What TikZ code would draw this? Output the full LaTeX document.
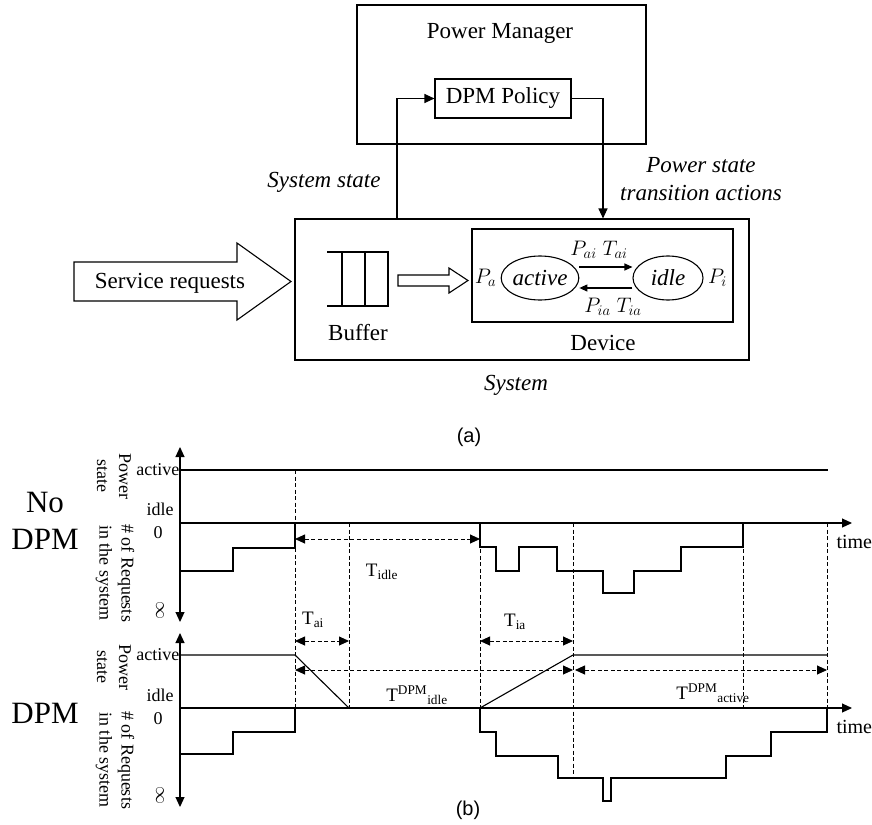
\RequirePackage{fix-cm}
\documentclass[tikz,border=0pt]{standalone}
\usepackage{fontspec}
\setmainfont{Liberation Serif}
\newfontfamily\capfont{Liberation Sans}
\usepackage{tikz}
\usetikzlibrary{arrows.meta,positioning,shapes.geometric}
\newcommand{\fmain}{\fontsize{23}{27.6}\selectfont}
\newcommand{\fside}{\fontsize{21}{25}\selectfont}
\newcommand{\fplot}{\fontsize{18}{22}\selectfont}
\newcommand{\fbig}{\fontsize{31}{37}\selectfont}
\newcommand{\fcap}{\capfont\fontsize{20}{24}\selectfont}

\begin{document}
\begin{tikzpicture}[x=1pt,y=-1pt,line width=1.1pt,>={Triangle[length=10pt,width=9pt]},
  box/.style={draw,inner sep=0pt},
  lbl/.style={font=\fmain,inner sep=0pt},
  plbl/.style={font=\fplot,inner sep=0pt},
  tlbl/.style={font=\fontsize{19}{22}\selectfont,inner sep=0pt},
  guide/.style={dash pattern=on 4pt off 2.5pt,line width=0.9pt},
  devarr/.style={-{Triangle[length=8pt,width=7pt]}}]
  \useasboundingbox (0,0) rectangle (872,824);
  % (a)
  \node[box,minimum width=289pt,minimum height=139pt] (pm) at (501.5,74.5) {};
  \node[lbl] (pmname) at (500,33) {Power Manager};
  \node[box,minimum width=136pt,minimum height=39pt,font=\fmain] (policy) at (503,98.5) {DPM Policy};
  \node[box,minimum width=454pt,minimum height=141pt] (sys) at (522,289.5) {};
  \node[box,minimum width=261pt,minimum height=93pt] (dev) at (602.5,275.5) {};
  \node[draw,ellipse,minimum width=64pt,minimum height=44pt,inner sep=0pt,font=\fmain\itshape] (act) at (540,278) {active};
  \node[draw,ellipse,minimum width=70pt,minimum height=44pt,inner sep=0pt,font=\fmain\itshape] (idl) at (668,278) {idle};
  \draw[devarr] ([yshift=11pt]act.east) -- ([yshift=11pt]idl.west);
  \draw[devarr] ([yshift=-10pt]idl.west) -- ([yshift=-10pt]act.east);
  \node[font=\fside,inner sep=0pt] (pai) at (599,250) {$P_{ai}\;T_{ai}$};
  \node[font=\fside,inner sep=0pt] (pia) at (613,307) {$P_{ia}\;T_{ia}$};
  \node[font=\fside,inner sep=1pt,left=3pt of act] (pa) {$P_a$};
  \node[font=\fside,inner sep=1pt,right=3pt of idl] (pi) {$P_i$};
  \draw (327,252) -- (388,252) -- (388,306) -- (327,306) (342,252) -- (342,306) (365,252) -- (365,306);
  \node[lbl] (buf) at (358,333) {Buffer};
  \node[lbl] (devname) at (603,343) {Device};
  \node[lbl,font=\fmain\itshape] (sysname) at (516,385) {System};
  \draw (74,262) -- (237,262) -- (237,243) -- (291,281.5) -- (237,320) -- (237,301) -- (74,301) -- cycle;
  \node[lbl] (req) at (170,283) {Service requests};
  \draw (398,275) -- (449,275) -- (449,268) -- (468,280.5) -- (449,293) -- (449,286) -- (398,286) -- cycle;
  \draw[->] ([xshift=-125pt]sys.north) |- (policy.west);
  \draw[->] (policy.east) -| ([xshift=81pt]sys.north);
  \node[lbl,font=\fmain\itshape] (sstate) at (324,182) {System state};
  \node[lbl,font=\fmain\itshape,align=center] (pstate) at (701,179) {Power state\\transition actions};
  \node[font=\fcap] (capa) at (469,437) {(a)};
  % (b) no DPM
  \node[font=\fbig,align=center,inner sep=0pt] (nodpm) at (45,521) {No\\DPM};
  \node[plbl,rotate=-90,align=center] at (114,476) {Power\\state};
  \node[plbl,rotate=-90,align=center] at (115,573) {\# of Requests\\in the system};
  \draw[<->] (180,447) -- (180,622);
  \draw (180,470) -- (828,470);
  \draw[->] (180,523) -- (852,523);
  \node[plbl,anchor=east] at (180,470) {active};
  \node[plbl] at (160,509) {idle};
  \node[plbl] at (158,533) {0};
  \node[plbl,rotate=-90] at (160,610) {$\infty$};
  \node[tlbl,font=\fontsize{20}{24}\selectfont,anchor=west] at (836,542) {time};
  \draw (180,571) -| (233,548) -| (295,523) -- (480,523) |- (496,547) |- (519,571) |- (557,547) |- (603,571) |- (634,593) |- (681,571) |- (743,547) -- (743,523);
  \draw[line width=2pt] (295,523) -- (480,523);
  \draw[guide] (295,470) -- (295,708) (349,523) -- (349,708) (480,523) -- (480,708) (573,523) -- (573,778) (743,523) -- (743,708) (827,523) -- (827,708);
  \draw[guide,<->] (295,539) -- (480,539);
  \node[tlbl] at (382,572) {T\textsubscript{idle}};
  \draw[guide,<->] (295,641) -- (349,641);
  \node[tlbl] at (313,620) {T\textsubscript{ai}};
  \draw[guide,<->] (480,641) -- (573,641);
  \node[tlbl] at (515,622) {T\textsubscript{ia}};
  % (b) DPM
  \node[font=\fbig,inner sep=0pt] (withdpm) at (45,713) {DPM};
  \node[plbl,rotate=-90,align=center] at (114,667) {Power\\state};
  \node[plbl,rotate=-90,align=center] at (115,760) {\# of Requests\\in the system};
  \draw[<->] (180,633) -- (180,807);
  \draw (180,655) -- (295,655) -- (349,708);
  \draw (480,708) -- (573,655) -- (827,655);
  \draw[->] (180,708) -- (852,708);
  \node[plbl,anchor=east] at (180,655) {active};
  \node[plbl] at (160,695) {idle};
  \node[plbl] at (158,719) {0};
  \node[plbl,rotate=-90] at (160,795) {$\infty$};
  \node[tlbl,font=\fontsize{20}{24}\selectfont,anchor=west] at (836,727) {time};
  \draw (180,754) -| (233,732) -| (295,708) -- (480,708) |- (496,732) |- (558,756) |- (603,778) |- (611,801) |- (726,778) |- (771,756) |- (827,732) -- (827,708);
  \draw[line width=2pt] (295,708) -- (480,708);
  \draw[guide,<->] (295,670) -- (573,670);
  \node[tlbl] at (417,695) {T\textsuperscript{DPM}\textsubscript{idle}};
  \draw[guide,<->] (575,670) -- (827,670);
  \node[tlbl] at (713,693) {T\textsuperscript{DPM}\textsubscript{active}};
  \node[font=\fcap] (capb) at (468,810) {(b)};
\end{tikzpicture}
\end{document}
